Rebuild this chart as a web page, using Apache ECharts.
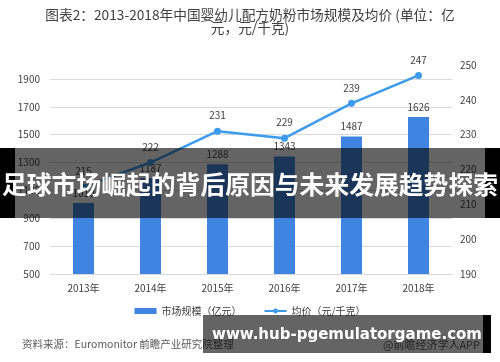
<!DOCTYPE html>
<html>
<head>
<meta charset="utf-8">
<script src="https://cdn.jsdelivr.net/npm/echarts@6/dist/echarts.min.js"></script>
<style>
html,body{margin:0;padding:0;background:#fff;}
#chart{width:500px;height:362px;}
</style>
</head>
<body>
<div id="chart"></div>
<script>
var categories = ['2013年', '2014年', '2015年', '2016年', '2017年', '2018年'];
var marketSize = [1010, 1187, 1288, 1343, 1487, 1626];
var avgPrice = [215, 222, 231, 229, 239, 247];
var leftTicks = [500, 700, 900, 1100, 1300, 1500, 1700, 1900];
var rightTicks = [190, 200, 210, 220, 230, 240, 250];

var chart = echarts.init(document.getElementById('chart'), null, {renderer: 'canvas'});
var FONT = '"Noto Sans CJK SC", "Noto Sans", sans-serif';
var option = {
  animation: false,
  textStyle: {fontFamily: FONT},
  grid: {left: 50, right: 48, top: 65, bottom: 88, containLabel: false},
  legend: {
    top: 301, left: 'center', itemGap: 22, itemWidth: 22, itemHeight: 6,
    textStyle: {fontSize: 10, color: '#404040', fontFamily: FONT},
    data: [
      {name: '市场规模（亿元）', icon: 'rect'},
      {name: '均价（元/千克）'}
    ]
  },
  xAxis: {
    type: 'category', data: categories, boundaryGap: true,
    axisLine: {lineStyle: {color: '#D9D9D9'}},
    axisTick: {show: false},
    axisLabel: {fontSize: 10, color: '#404040', margin: 9, fontFamily: FONT}
  },
  yAxis: [
    {
      type: 'value', min: 500, max: 2000, interval: 200,
      axisLine: {show: false}, axisTick: {show: false},
      axisLabel: {fontSize: 10, color: '#404040', margin: 10, showMaxLabel: false, fontFamily: FONT,
        formatter: function (v) { return leftTicks.indexOf(v) >= 0 ? String(v) : ''; }},
      splitLine: {show: true, showMaxLine: false, lineStyle: {color: '#D9D9D9', width: 1}}
    },
    {
      type: 'value', min: 190, max: 250, interval: 10, position: 'right',
      axisLine: {show: false}, axisTick: {show: false},
      axisLabel: {fontSize: 10, color: '#404040', margin: 8, fontFamily: FONT,
        formatter: function (v) { return rightTicks.indexOf(v) >= 0 ? String(v) : ''; }},
      splitLine: {show: false}
    }
  ],
  series: [
    {
      name: '市场规模（亿元）', type: 'bar', data: marketSize, barWidth: 21,
      itemStyle: {color: '#3E84E0'},
      label: {show: true, position: 'top', distance: 5, fontSize: 10, color: '#404040'}
    },
    {
      name: '均价（元/千克）', type: 'line', yAxisIndex: 1, data: avgPrice,
      symbol: 'circle', symbolSize: 7,
      lineStyle: {color: '#3D9BEC', width: 2.5},
      itemStyle: {color: '#3D9BEC'},
      label: {show: true, position: 'top', distance: 7, fontSize: 10, color: '#404040'}
    }
  ],
  graphic: [
    {type: 'text', left: 'center', top: 8, z: 50,
     style: {text: '图表2：2013-2018年中国婴幼儿配方奶粉市场规模及均价 (单位：亿', fill: '#404040', font: '13.7px ' + FONT}},
    {type: 'text', left: 'center', top: 21, z: 50,
     style: {text: '元，元/千克)', fill: '#404040', font: '13.7px ' + FONT}},
    {type: 'text', left: 22, top: 339, z: 50,
     style: {text: '资料来源：Euromonitor 前瞻产业研究院整理', fill: '#595959', font: '10.5px ' + FONT}},
    {type: 'text', left: 383, top: 339, z: 50,
     style: {text: '@前瞻经济学人APP', fill: '#595959', font: '11px ' + FONT}},
    {type: 'rect', z: 100, shape: {x: 15, y: 148, width: 470, height: 70}, style: {fill: 'rgba(5,5,5,0.62)'}},
    {type: 'rect', z: 100, shape: {x: 0, y: 148, width: 15, height: 70}, style: {fill: '#000'}},
    {type: 'rect', z: 100, shape: {x: 485, y: 148, width: 15, height: 70}, style: {fill: '#000'}},
    {type: 'text', z: 101, x: 250, y: 185,
     style: {text: '足球市场崛起的背后原因与未来发展趋势探索', fill: '#fff', align: 'center', verticalAlign: 'middle', font: 'bold 24.8px ' + FONT}},
    {type: 'rect', z: 100, shape: {x: 203, y: 315, width: 280, height: 38}, style: {fill: 'rgba(5,5,5,0.62)'}},
    {type: 'rect', z: 100, shape: {x: 483, y: 315, width: 8, height: 38}, style: {fill: '#000'}},
    {type: 'text', z: 101, x: 347, y: 335,
     style: {text: 'www.hub-pgemulatorgame.com', fill: '#fff', align: 'center', verticalAlign: 'middle', font: 'bold 15px "DejaVu Sans", sans-serif'}}
  ]
};
chart.setOption(option);
</script>
</body>
</html>
